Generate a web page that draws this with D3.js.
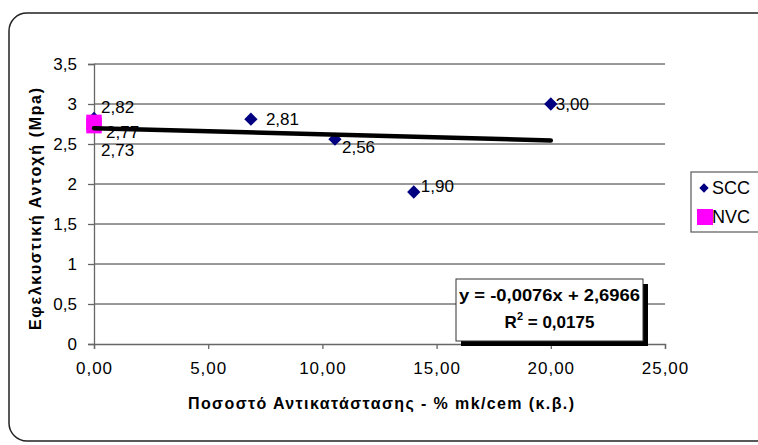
<!DOCTYPE html>
<html>
<head>
<meta charset="utf-8">
<script src="https://cdn.jsdelivr.net/npm/d3@7"></script>
<style>
  html, body { margin: 0; padding: 0; background: #fff; }
  svg { display: block; font-family: Arial, "Liberation Sans", sans-serif; }
</style>
</head>
<body>
<svg id="chart" width="758" height="445"></svg>
<script>
// Tensile strength vs. metakaolin replacement
const sccX = [0, 6.87, 10.55, 14, 20];
const sccY = [2.82, 2.81, 2.56, 1.90, 3.00];
const nvcX = [0, 0];
const nvcY = [2.77, 2.73];
const xTicks = [0, 5, 10, 15, 20, 25];
const yTicks = [0, 0.5, 1, 1.5, 2, 2.5, 3, 3.5];
const seriesNames = ["SCC", "NVC"];
const trendSlope = -0.0076;
const trendIntercept = 2.6966;
const rSquared = 0.0175;

const fmt2 = v => v.toFixed(2).replace(".", ",");
const fmtY = v => String(v).replace(".", ",");

// label placement relative to each point (dx from point, dy of text centre)
const sccLabelPos = [[7, -12], [15, 0], [7, 8], [7, -6], [5, 0]];
const nvcLabelPos = [[12, 9], [7, 24]];

const svg = d3.select("#chart");
const x = d3.scaleLinear().domain([0, 25]).range([94, 665]);
const y = d3.scaleLinear().domain([0, 3.5]).range([344, 64]);

// outer chart frame
svg.append("rect")
  .attr("x", 9).attr("y", 13).attr("width", 770).attr("height", 428)
  .attr("rx", 18).attr("ry", 18)
  .attr("fill", "none").attr("stroke", "#222").attr("stroke-width", 1.5);

// horizontal gridlines
svg.append("g").selectAll("line").data(yTicks.filter(d => d > 0)).join("line")
  .attr("x1", x(0)).attr("x2", x(25))
  .attr("y1", d => y(d)).attr("y2", d => y(d))
  .attr("stroke", "#333").attr("stroke-width", 1);

// axes
const yAxis = d3.axisLeft(y).tickValues(yTicks).tickFormat(fmtY).tickSize(6).tickPadding(11);
const xAxis = d3.axisBottom(x).tickValues(xTicks).tickFormat(fmt2).tickSize(5).tickPadding(13);

const gy = svg.append("g").attr("transform", `translate(${x(0)},0)`).call(yAxis);
const gx = svg.append("g").attr("transform", `translate(0,${y(0)})`).call(xAxis);
[gx, gy].forEach(g => {
  g.select(".domain").attr("stroke", "#666").attr("stroke-width", 1.3);
  g.selectAll(".tick line").attr("stroke", "#666").attr("stroke-width", 1.3);
  g.selectAll("text").attr("fill", "#000").attr("font-size", 17)
    .attr("font-family", "Arial, 'Liberation Sans', sans-serif");
});
gx.selectAll("text").attr("letter-spacing", 1);

// SCC diamonds
const diamond = d3.symbol(d3.symbolSquare, 88);
svg.append("g").selectAll("path").data(sccX.map((v, i) => [v, sccY[i]])).join("path")
  .attr("d", diamond)
  .attr("transform", d => `translate(${x(d[0])},${y(d[1])}) rotate(45)`)
  .attr("fill", "#000080");

// NVC squares
const square = d3.symbol(d3.symbolSquare, 240);
svg.append("g").selectAll("path").data(nvcX.map((v, i) => [v, nvcY[i]])).join("path")
  .attr("d", square)
  .attr("transform", d => `translate(${x(d[0])},${y(d[1])})`)
  .attr("fill", "#ff00ff");

// value labels
const labels = svg.append("g").attr("font-size", 17).attr("fill", "#000");
sccX.forEach((v, i) => {
  labels.append("text")
    .attr("x", x(v) + sccLabelPos[i][0]).attr("y", y(sccY[i]) + sccLabelPos[i][1])
    .attr("dy", "0.36em").text(fmt2(sccY[i]));
});
nvcX.forEach((v, i) => {
  labels.append("text")
    .attr("x", x(v) + nvcLabelPos[i][0]).attr("y", y(nvcY[i]) + nvcLabelPos[i][1])
    .attr("dy", "0.36em").text(fmt2(nvcY[i]));
});

// linear trendline for SCC
const tx = d3.extent(sccX);
svg.append("line")
  .attr("x1", x(tx[0])).attr("y1", y(trendIntercept + trendSlope * tx[0]))
  .attr("x2", x(tx[1])).attr("y2", y(trendIntercept + trendSlope * tx[1]))
  .attr("stroke", "#000").attr("stroke-width", 4.5).attr("stroke-linecap", "round");

// equation box with shadow
const bx = 456, by = 279, bw = 187, bh = 62;
svg.append("rect").attr("x", bx + 5).attr("y", by + 5).attr("width", bw).attr("height", bh).attr("fill", "#000");
svg.append("rect").attr("x", bx).attr("y", by).attr("width", bw).attr("height", bh)
  .attr("fill", "#fff").attr("stroke", "#333").attr("stroke-width", 1);
const eqText = svg.append("g").attr("font-weight", "bold").attr("font-size", 17).attr("fill", "#000");
const fmt4 = v => (v < 0 ? "-" : "") + Math.abs(v).toFixed(4).replace(".", ",");
eqText.append("text").attr("x", bx + 3).attr("y", by + 22)
  .attr("textLength", 181).attr("lengthAdjust", "spacingAndGlyphs")
  .text(`y = ${fmt4(trendSlope)}x + ${fmt4(trendIntercept)}`);
const r2 = eqText.append("text").attr("x", bx + bw / 2).attr("y", by + 49).attr("text-anchor", "middle");
r2.append("tspan").text("R");
r2.append("tspan").attr("font-size", 11).attr("dy", -8).text("2");
r2.append("tspan").attr("dy", 8).text(` = ${fmt4(rSquared)}`);

// legend
const lg = svg.append("g");
lg.append("rect").attr("x", 691).attr("y", 172).attr("width", 80).attr("height", 60)
  .attr("fill", "#fff").attr("stroke", "#666").attr("stroke-width", 1.3);
lg.append("path").attr("d", d3.symbol(d3.symbolSquare, 44))
  .attr("transform", "translate(704,188) rotate(45)").attr("fill", "#000080");
lg.append("rect").attr("x", 697).attr("y", 209).attr("width", 16).attr("height", 16).attr("fill", "#ff00ff");
lg.selectAll("text.leg").data(seriesNames).join("text")
  .attr("x", 712).attr("y", (d, i) => 188 + i * 29).attr("dy", "0.36em")
  .attr("font-size", 18).text(d => d);

// axis titles
svg.append("text")
  .attr("transform", "translate(41,209) rotate(-90)")
  .attr("text-anchor", "middle").attr("font-weight", "bold").attr("font-size", 16)
  .attr("textLength", 242).attr("lengthAdjust", "spacing")
  .text("Εφελκυστική Αντοχή (Mpa)");
svg.append("text")
  .attr("x", 381).attr("y", 409)
  .attr("text-anchor", "middle").attr("font-weight", "bold").attr("font-size", 16)
  .attr("textLength", 386).attr("lengthAdjust", "spacing")
  .text("Ποσοστό Αντικατάστασης - % mk/cem (κ.β.)");
</script>
</body>
</html>
